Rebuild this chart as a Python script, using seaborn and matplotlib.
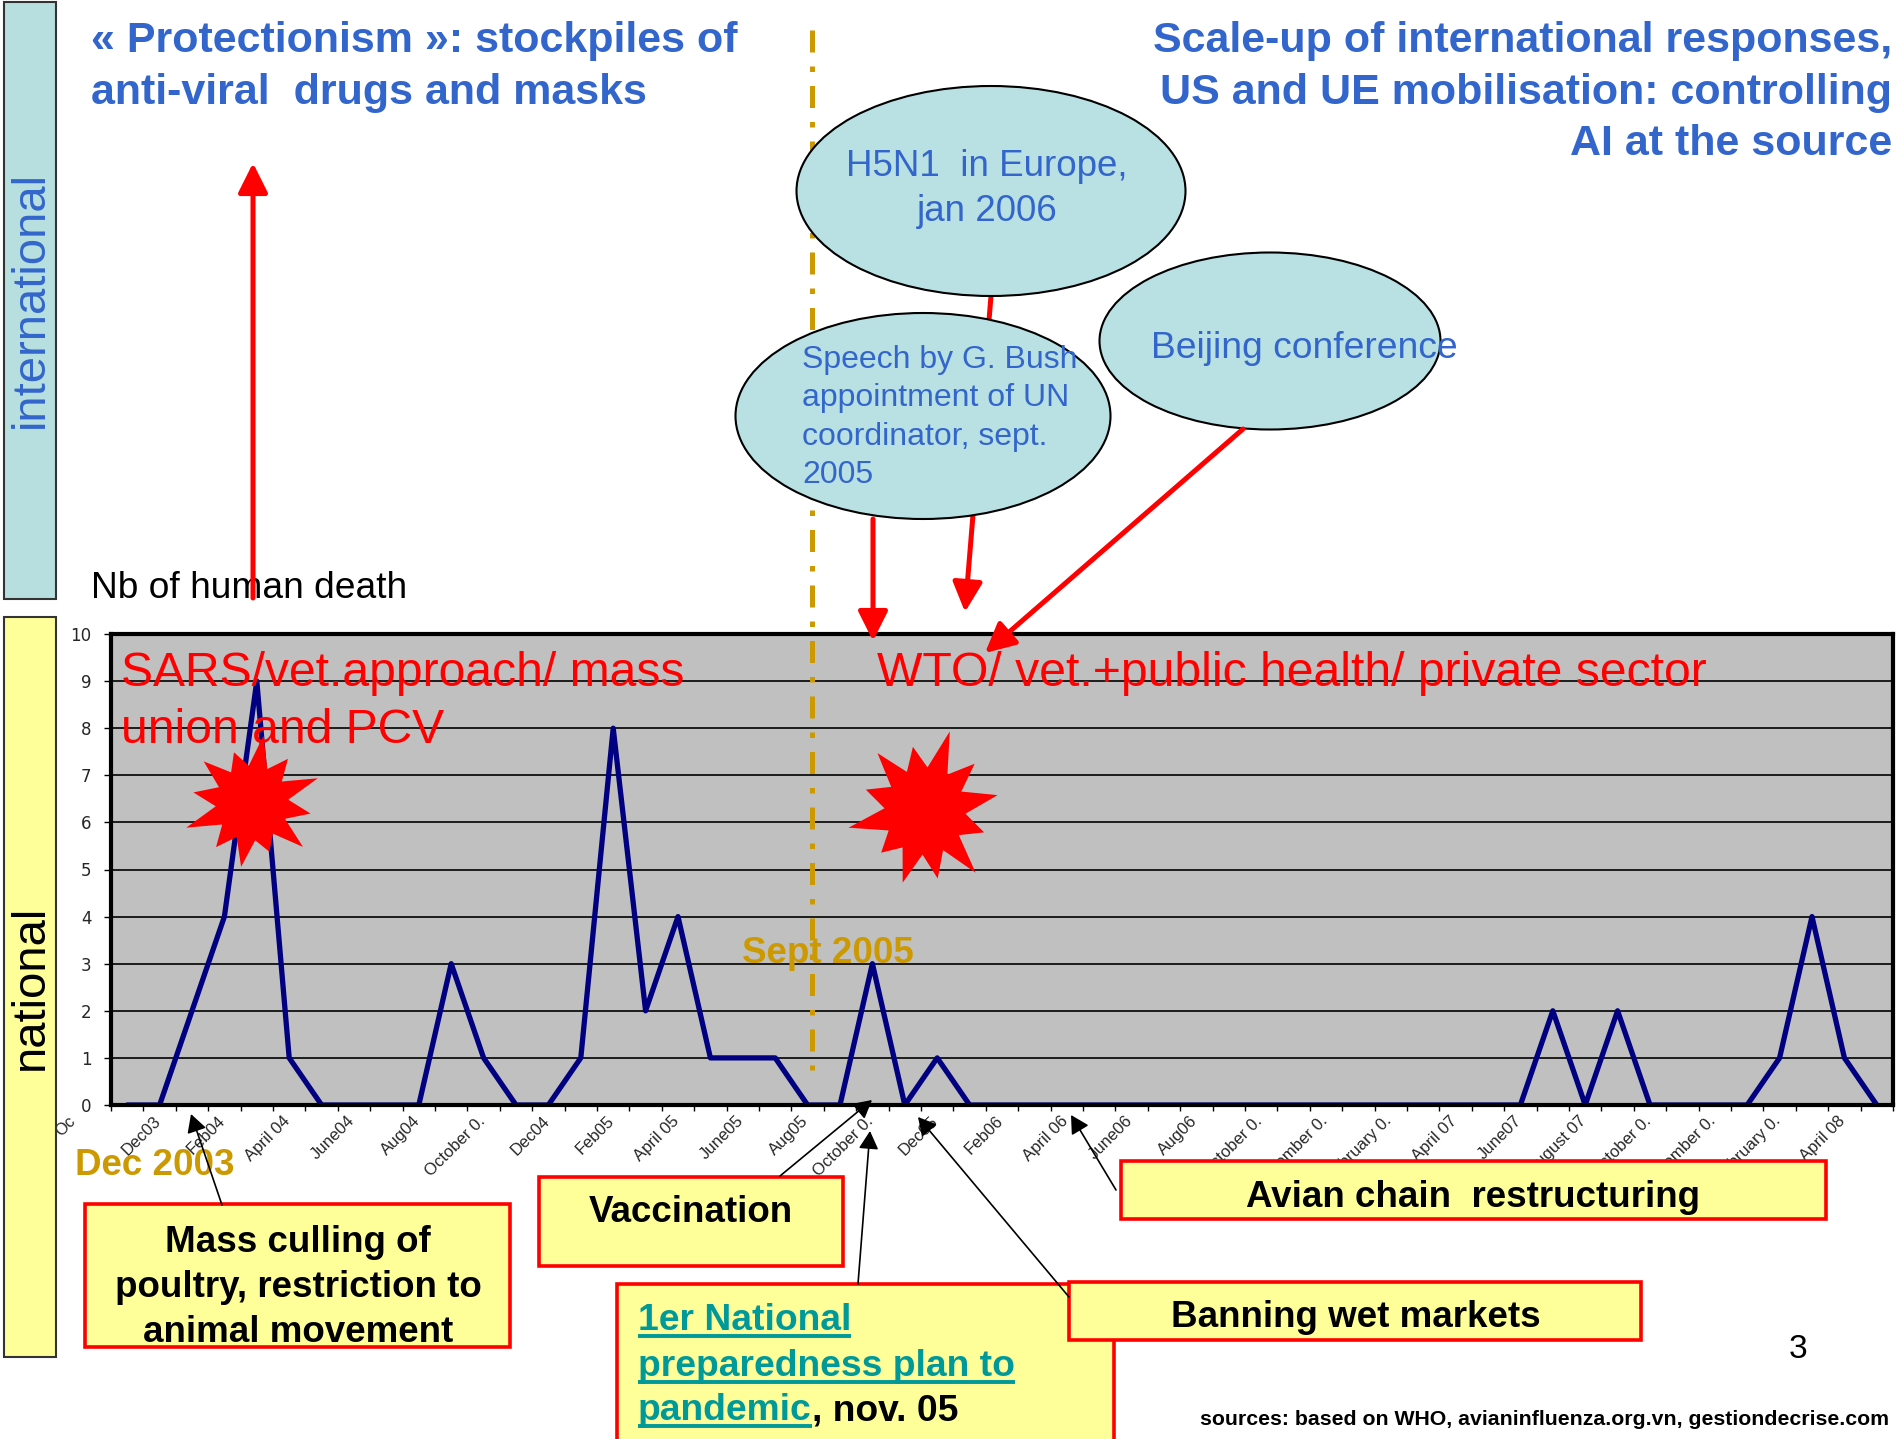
import matplotlib
matplotlib.use("Agg")
import matplotlib.pyplot as plt  # noqa: E402
import numpy as np  # noqa: E402
import pandas as pd  # noqa: E402
import seaborn as sns  # noqa: E402
from matplotlib.patches import Ellipse, Polygon, Rectangle  # noqa: E402
from matplotlib.transforms import ScaledTranslation  # noqa: E402

W, H, DPI = 1896, 1439, 100

# monthly human deaths from avian flu, Oct 2003 .. Apr 2008
deaths = [0, 0, 2, 4, 9, 1, 0, 0, 0, 0,
          3, 1, 0, 0, 1, 8, 2, 4, 1, 1,
          1, 0, 0, 3, 0, 1, 0, 0, 0, 0,
          0, 0, 0, 0, 0, 0, 0, 0, 0, 0,
          0, 0, 0, 0, 2, 0, 2, 0, 0, 0,
          0, 1, 4, 1, 0]
# one label every second month, as printed (truncated) on the slide
tick_labels = ["Oc", "Dec03", "Feb04", "April 04", "June04", "Aug04", "October 0.",
               "Dec04", "Feb05", "April 05", "June05", "Aug05", "October 0.",
               "Dec05", "Feb06", "April 06", "June06", "Aug06", "October 0.",
               "December 0.", "February 0.", "April 07", "June07", "August 07",
               "October 0.", "December 0.", "February 0.", "April 08"]
y_ticks = list(range(11))

BLUE = "#3366cc"
GOLD = "#cc9900"
TEAL = "#009999"
BUBBLE = "#b9e0e2"
NOTE = "#ffff99"

sns.set_style("white")
plt.rcParams["font.family"] = ["Liberation Sans", "DejaVu Sans"]

fig = plt.figure(figsize=(W / DPI, H / DPI), dpi=DPI)

# ── the death count chart ────────────────────────────────────────────────
ax = fig.add_axes([111 / W, 1 - 1105 / H, (1893 - 111) / W, (1105 - 634) / H])
df = pd.DataFrame({"month": np.arange(len(deaths)), "deaths": deaths})
sns.lineplot(data=df, x="month", y="deaths", ax=ax, color="#000080", lw=3.8)
ax.set_facecolor("#c0c0c0")
ax.set_xlim(-0.5, len(deaths) - 0.5)
ax.set_ylim(0, 10)
ax.set_yticks(y_ticks)
ax.yaxis.grid(True, color="black", lw=1.2)
ax.set_axisbelow(True)
ax.set_xlabel("")
ax.set_ylabel("")
for sp in ax.spines.values():
    sp.set_color("black")
    sp.set_linewidth(3)

ax.set_xticks(np.arange(0, len(deaths), 2), tick_labels, rotation=45,
              ha="right", rotation_mode="anchor", fontsize=12)
ax.set_xticks(np.arange(-0.5, len(deaths), 1), minor=True)
ax.tick_params(axis="x", which="major", length=0, pad=6)
ax.tick_params(axis="x", which="minor", length=4.5, width=1, color="black",
               direction="out", bottom=True)
ax.tick_params(axis="y", length=5, width=1, color="black", direction="out",
               pad=9, labelsize=12, left=True)
for lab in ax.get_yticklabels():
    lab.set_fontfamily("DejaVu Sans")
shift = ScaledTranslation(-0.39, 0, fig.dpi_scale_trans)
for k, lab in enumerate(ax.get_xticklabels()):
    extra = ScaledTranslation(-0.2 if k == 0 else 0, 0, fig.dpi_scale_trans)
    lab.set_transform(lab.get_transform() + shift + extra)

# ── slide overlay in pixel coordinates ───────────────────────────────────
ov = fig.add_axes([0, 0, 1, 1], zorder=5)
ov.set_xlim(0, W)
ov.set_ylim(H, 0)
ov.axis("off")


def put(x, y, s, size, color="black", weight="normal", ha="left", **kw):
    return ov.text(x, y, s, fontsize=size, color=color, fontweight=weight,
                   ha=ha, va="baseline", **kw)


def arrow(x0, y0, x1, y1, color="red", lw=3.6, hl=0.9, hw=0.45, z=4):
    ov.annotate("", xy=(x1, y1), xytext=(x0, y0), zorder=z,
                arrowprops=dict(arrowstyle=f"-|>,head_length={hl},head_width={hw}",
                                color=color, lw=lw, shrinkA=0, shrinkB=0,
                                mutation_scale=20))


def star(cx, cy, rx, ry, spikes, rot):
    n = len(spikes)
    pts = []
    for k, s in enumerate(spikes):
        a = rot + 2 * np.pi * k / n
        pts.append((cx + rx * s * np.cos(a), cy - ry * s * np.sin(a)))
        a2 = a + np.pi / n
        pts.append((cx + rx * 0.52 * np.cos(a2), cy - ry * 0.52 * np.sin(a2)))
    ov.add_patch(Polygon(pts, closed=True, fc="red", ec="none", zorder=4))


def note(x0, y0, x1, y1):
    ov.add_patch(Rectangle((x0, y0), x1 - x0, y1 - y0, fc=NOTE, ec="red",
                           lw=2.6, zorder=3))


# side bands
ov.add_patch(Rectangle((4, 2), 52, 597, fc="#b7dfe0", ec="#333333", lw=1.5))
ov.text(31, 300, "international", rotation=90, fontsize=34, color=BLUE,
        ha="center", va="center")
ov.add_patch(Rectangle((4, 617), 52, 740, fc=NOTE, ec="#333333", lw=1.5))
ov.text(31, 987, "national", rotation=90, fontsize=34, color="black",
        ha="center", va="center")

# headings
put(91, 52, "« Protectionism »: stockpiles of", 31, BLUE, "bold")
put(91, 104, "anti-viral  drugs and masks", 31, BLUE, "bold")
put(1892, 52, "Scale-up of international responses,", 31, BLUE, "bold", ha="right")
put(1892, 104, "US and UE mobilisation: controlling", 31, BLUE, "bold", ha="right")
put(1892, 155, "AI at the source", 31, BLUE, "bold", ha="right")

# Sept 2005 divider
ov.plot([812, 812], [30, 1070], color=GOLD, lw=3.6,
        linestyle=(0, (4.4, 2.8, 1.1, 2.8)), zorder=3)

# axis title and arrow
arrow(253, 598, 253, 163)
put(91, 598, "Nb of human death", 26.7)

# international events
arrow(991, 296, 965, 612, z=2)
ov.add_patch(Ellipse((991, 191), 389, 210, fc=BUBBLE, ec="black", lw=1.5, zorder=3))
ov.add_patch(Ellipse((923, 416), 375, 206, fc=BUBBLE, ec="black", lw=1.5, zorder=3))
ov.add_patch(Ellipse((1270, 341), 341, 177, fc=BUBBLE, ec="black", lw=1.5, zorder=3))
put(987, 176, "H5N1  in Europe,", 26.5, BLUE, ha="center", zorder=5)
put(987, 221, "jan 2006", 26.5, BLUE, ha="center", zorder=5)
for yb, s in zip([368, 406, 445, 483],
                 ["Speech by G. Bush", "appointment of UN", "coordinator, sept.", "2005"]):
    put(802, yb, s, 23, BLUE, zorder=5)
put(1151, 358, "Beijing conference", 26.8, BLUE, zorder=5)
arrow(873, 519, 873, 641)
arrow(1243, 429, 985, 653)

# phases inside the chart
put(121, 686, "SARS/vet.approach/ mass", 34.6, "red")
put(121, 743, "union and PCV", 34.6, "red")
put(877, 686, "WTO/ vet.+public health/ private sector", 34.7, "red")
star(252, 803, 70, 72, [1.0, 0.8, 0.95, 0.75, 0.9, 0.85, 1.0, 0.8, 0.9, 0.72, 0.95, 0.85], 0.35)
star(925, 811, 78, 84, [0.95, 0.85, 1.0, 0.78, 0.92, 0.8, 1.0, 0.75, 0.9, 0.82, 0.98, 0.8], 0.2)
put(828, 963, "Sept 2005", 26.5, GOLD, "bold", ha="center")
put(155, 1175, "Dec 2003", 26.5, GOLD, "bold", ha="center")

# national measures
note(85, 1204, 510, 1347)
for yb, s in zip([1252, 1297, 1342],
                 ["Mass culling of", "poultry, restriction to", "animal movement"]):
    put(298, yb, s, 26.5, weight="bold", ha="center", zorder=5)
arrow(222, 1205, 191, 1114, color="black", lw=1.2, hl=0.55, hw=0.3)

note(539, 1177, 843, 1266)
put(691, 1222, "Vaccination", 26.5, weight="bold", ha="center", zorder=5)
arrow(780, 1176, 872, 1100, color="black", lw=1.2, hl=0.55, hw=0.3)

note(617, 1284, 1114, 1470)
plan = [put(638, 1330, "1er National", 26.8, TEAL, "bold", zorder=5),
        put(638, 1376, "preparedness plan to", 26.8, TEAL, "bold", zorder=5),
        put(638, 1420, "pandemic", 26.8, TEAL, "bold", zorder=5)]
ov.annotate(", nov. 05", xy=(1, 0), xycoords=plan[2], va="bottom", ha="left",
            fontsize=26.8, fontweight="bold", color="black", zorder=5)
arrow(858, 1284, 870, 1131, color="black", lw=1.2, hl=0.55, hw=0.3)

note(1069, 1282, 1641, 1340)
put(1356, 1327, "Banning wet markets", 26.5, weight="bold", ha="center", zorder=5)
arrow(1069, 1297, 918, 1117, color="black", lw=1.2, hl=0.55, hw=0.3)

note(1121, 1161, 1826, 1219)
put(1473, 1207, "Avian chain  restructuring", 26.5, weight="bold", ha="center", zorder=5)
arrow(1116, 1190, 1071, 1115, color="black", lw=1.2, hl=0.55, hw=0.3)

put(1798, 1358, "3", 24, ha="center")
put(1200, 1425, "sources: based on WHO, avianinfluenza.org.vn, gestiondecrise.com",
    15.3, weight="bold")

# underline the linked plan title
fig.canvas.draw()
renderer = fig.canvas.get_renderer()
for t in plan:
    bb = t.get_window_extent(renderer)
    yb = t.get_position()[1] + 6
    ov.plot([bb.x0, bb.x1], [yb, yb], color=TEAL, lw=2.8, zorder=5,
            solid_capstyle="butt")

fig.savefig("out.png", dpi=DPI)
